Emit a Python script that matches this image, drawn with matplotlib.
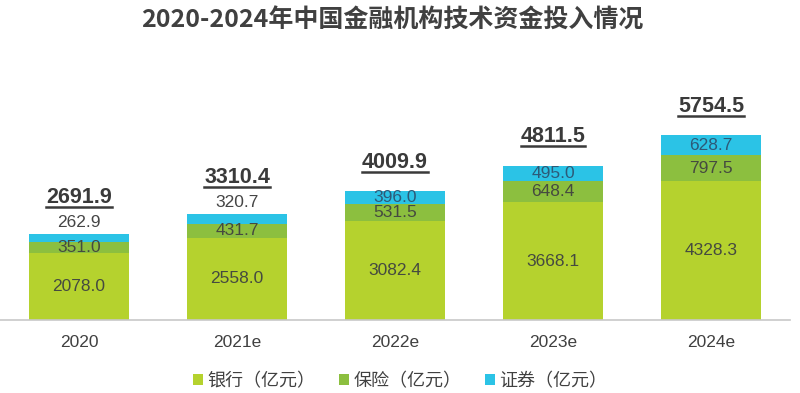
import numpy as np
import matplotlib.pyplot as plt
from matplotlib.lines import Line2D

plt.rcParams['font.family'] = ['Liberation Sans', 'Noto Sans CJK SC', 'DejaVu Sans']

years = ['2020', '2021e', '2022e', '2023e', '2024e']
bank = [2078.0, 2558.0, 3082.4, 3668.1, 4328.3]
insurance = [351.0, 431.7, 531.5, 648.4, 797.5]
securities = [262.9, 320.7, 396.0, 495.0, 628.7]
totals = [2691.9, 3310.4, 4009.9, 4811.5, 5754.5]
names = ['银行（亿元）', '保险（亿元）', '证券（亿元）']

c_bank = '#b5d22e'
c_ins = '#8cbf3f'
c_sec = '#2bc3e6'

fig = plt.figure(figsize=(8, 3.93), dpi=100)
ax = fig.add_axes([0.0, 73 / 393, 790 / 800, 260 / 393])

x = np.arange(len(years))
w = 0.63
bank = np.array(bank)
insurance = np.array(insurance)
securities = np.array(securities)

ax.bar(x, bank, w, color=c_bank, label=names[0])
ax.bar(x, insurance, w, bottom=bank, color=c_ins, label=names[1])
ax.bar(x, securities, w, bottom=bank + insurance, color=c_sec, label=names[2])

ax.set_xlim(-0.5, 4.5)
ax.set_ylim(0, 8100)

# 数值标签
fs = 12.5
for i in range(len(years)):
    ax.text(x[i], bank[i] / 2, '%.1f' % bank[i], ha='center', va='center',
            fontsize=fs, color='#454a40')
    ax.text(x[i], bank[i] + insurance[i] / 2, '%.1f' % insurance[i],
            ha='center', va='center', fontsize=fs, color='#454a40')
    top = bank[i] + insurance[i] + securities[i]
    if securities[i] < 350:
        ax.text(x[i], top + 110, '%.1f' % securities[i], ha='center',
                va='bottom', fontsize=fs, color='#454545')
        ty = top + 800
    else:
        ax.text(x[i], top - securities[i] / 2, '%.1f' % securities[i],
                ha='center', va='center', fontsize=fs, color='#2d5a78')
        ty = top + 580
    ax.text(x[i], ty, '%.1f' % totals[i], ha='center', va='bottom',
            fontsize=15.5, fontweight='bold', color='#3a3a3a', gid='total')

for s in ['top', 'right', 'left']:
    ax.spines[s].set_visible(False)
ax.spines['bottom'].set_color('#c8c8c8')
ax.spines['bottom'].set_linewidth(1.2)
ax.set_yticks([])
ax.set_xticks(x)
ax.set_xticklabels(years, fontsize=12.5, color='#404040')
ax.tick_params(axis='x', length=0, pad=11)

fig.suptitle('2020-2024年中国金融机构技术资金投入情况', x=0.49, y=0.978,
             fontsize=18, fontweight='bold', color='#404040',
             family=['Noto Sans CJK SC', 'DejaVu Sans'])

leg = fig.legend(loc='center', bbox_to_anchor=(0.5, 12 / 393), ncol=3,
                 frameon=False, handlelength=0.55,
                 handleheight=0.55, handletextpad=0.25, columnspacing=1.3,
                 prop={'family': ['Noto Sans CJK SC', 'DejaVu Sans'], 'size': 13})
for t in leg.get_texts():
    t.set_color('#404040')

# 总数下划线
fig.canvas.draw()
r = fig.canvas.get_renderer()
for t in ax.texts:
    if t.get_gid() == 'total':
        bb = t.get_window_extent(r).transformed(fig.transFigure.inverted())
        fig.add_artist(Line2D([bb.x0, bb.x1], [bb.y0 + 0.002, bb.y0 + 0.002],
                              color='#3a3a3a', lw=1.8,
                              transform=fig.transFigure))

fig.savefig('out.png', dpi=100)
